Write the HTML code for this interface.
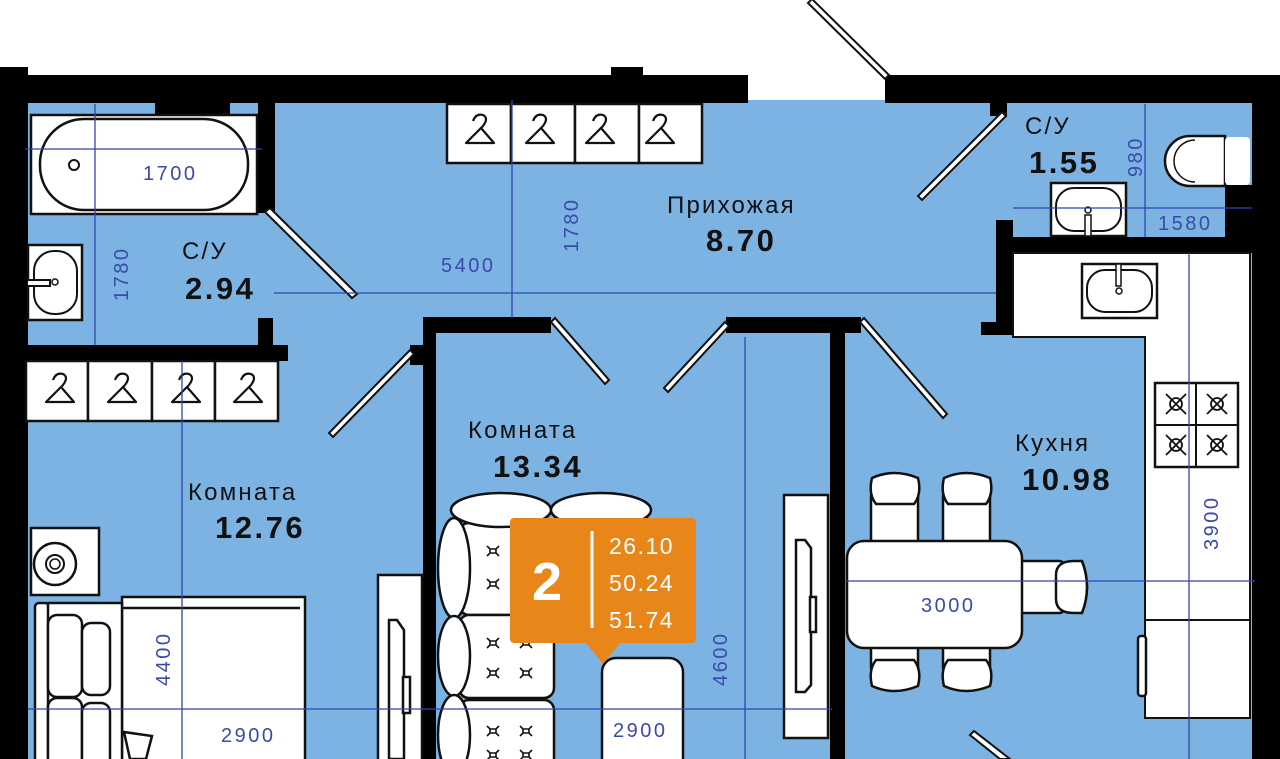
<!DOCTYPE html>
<html><head><meta charset="utf-8"><style>
html,body{margin:0;padding:0;background:#fff;}
svg{display:block}
text{font-family:"Liberation Sans","DejaVu Sans",sans-serif}
.d{fill:#3a4aa8;font-size:20px;letter-spacing:2.5px}
.l{fill:#111;font-size:24px;letter-spacing:2.2px}
.n{fill:#111;font-size:31px;font-weight:bold;letter-spacing:2.5px}
.f{fill:#fff;stroke:#111;stroke-width:2.5}
.dl{stroke:#3344b0;stroke-width:1.3}
.door{fill:#fff;stroke:#111;stroke-width:2}
</style></head><body>
<svg width="1280" height="759" viewBox="0 0 1280 759" xmlns="http://www.w3.org/2000/svg">
<rect width="1280" height="759" fill="#fff"/>
<rect x="28" y="102" width="1225" height="657" fill="#7db3e3"/>
<rect x="748" y="0" width="137" height="100" fill="#fff"/>
<rect x="748" y="100" width="137" height="3" fill="#7db3e3"/>
<g fill="#000">
<rect x="0" y="67" width="28" height="692"/>
<rect x="0" y="75" width="748" height="28"/>
<rect x="611" y="67" width="32" height="10"/>
<rect x="155" y="100" width="75" height="14"/>
<rect x="885" y="75" width="395" height="28"/>
<rect x="1252" y="75" width="28" height="684"/>
<rect x="1225" y="185" width="30" height="60"/>
<rect x="258" y="90" width="17" height="123"/>
<rect x="258" y="318" width="15" height="30"/>
<rect x="28" y="345" width="260" height="16"/>
<rect x="423" y="317" width="128" height="16"/>
<rect x="423" y="317" width="13" height="442"/>
<rect x="410" y="345" width="14" height="20"/>
<rect x="726" y="317" width="135" height="16"/>
<rect x="830" y="317" width="15" height="442"/>
<rect x="990" y="102" width="17" height="14"/>
<rect x="996" y="220" width="17" height="115"/>
<rect x="996" y="237" width="257" height="16"/>
<rect x="981" y="322" width="32" height="13"/>
</g>
<path d="M1013 253 H1250 V718 H1145 V337 H1013 Z" fill="#fff" stroke="#111" stroke-width="2"/>
<rect x="1145" y="620" width="105" height="98" fill="#fff" stroke="#111" stroke-width="2"/>
<rect x="1138" y="636" width="8" height="60" rx="3" class="f" stroke-width="2"/>
<g class="door">
<polygon points="265,212 270,208 357,294 352,298"/>
<polygon points="410,350 414,354 333,437 329,433"/>
<polygon points="551,322 555,318 609,380 605,384"/>
<polygon points="725,322 729,326 668,392 664,388"/>
<polygon points="860,322 864,318 947,414 943,418"/>
<polygon points="1002,112 1006,116 922,200 918,196"/>
<polygon points="808,3 812,-1 889,75 885,79"/>
<polygon points="970,735 974,731 1010,759 1000,759"/>
</g>
<g class="f" stroke-width="2">
<rect x="447" y="104" width="64" height="59"/><rect x="511" y="104" width="64" height="59"/><rect x="575" y="104" width="64" height="59"/><rect x="639" y="104" width="63" height="59"/>
<rect x="26" y="361" width="62" height="60"/><rect x="88" y="361" width="64" height="60"/><rect x="152" y="361" width="63" height="60"/><rect x="215" y="361" width="63" height="60"/>
</g>
<g fill="none" stroke="#111" stroke-width="2.2" stroke-linejoin="round">
<path id="h" d="M473 121 q3 -8 10 -6 q6 3 0 11 L466 143 H494 L481 128"/>
<use href="#h" x="60"/><use href="#h" x="120"/><use href="#h" x="180"/>
<use href="#h" x="-420" y="259"/><use href="#h" x="-358" y="259"/><use href="#h" x="-294" y="259"/><use href="#h" x="-232" y="259"/>
</g>
<rect x="31" y="115" width="226" height="99" class="f" stroke-width="2"/>
<rect x="40" y="119" width="208" height="91" rx="44" fill="none" stroke="#111" stroke-width="2.5"/>
<circle cx="74" cy="165" r="5" fill="none" stroke="#111" stroke-width="2"/>
<rect x="28" y="245" width="54" height="75" class="f" stroke-width="2"/>
<rect x="34" y="251" width="43" height="63" rx="20" fill="none" stroke="#111" stroke-width="2"/>
<path d="M28 280 H50 V286 H28" fill="#fff" stroke="#111" stroke-width="2"/><circle cx="55" cy="282" r="3" fill="none" stroke="#111" stroke-width="1.5"/>
<rect x="1051" y="183" width="75" height="53" class="f" stroke-width="2"/>
<rect x="1056" y="188" width="65" height="43" rx="18" fill="none" stroke="#111" stroke-width="2"/>
<circle cx="1088" cy="210" r="3" fill="none" stroke="#111" stroke-width="1.5"/><rect x="1085" y="215" width="6" height="21" fill="#fff" stroke="#111" stroke-width="1.5"/>
<path d="M1225 136 H1190 a25 25 0 0 0 0 50 H1225 Z" class="f"/>
<path d="M1195 140 a21 21 0 0 0 0 42" fill="none" stroke="#111" stroke-width="1.5"/>
<rect x="1225" y="137" width="25" height="48" rx="4" fill="#fff"/>
<rect x="1082" y="264" width="75" height="54" class="f" stroke-width="2"/>
<rect x="1087" y="270" width="65" height="42" rx="18" fill="none" stroke="#111" stroke-width="2"/>
<rect x="1116" y="264" width="5" height="22" fill="#fff" stroke="#111" stroke-width="1.5"/><circle cx="1119" cy="291" r="3" fill="none" stroke="#111" stroke-width="1.5"/>
<rect x="1155" y="383" width="83" height="84" class="f" stroke-width="2"/>
<path d="M1196 383 V467 M1155 425 H1238" stroke="#111" stroke-width="2"/>
<g fill="none" stroke="#111" stroke-width="1.8">
<g id="b"><circle cx="1176" cy="404" r="6"/><path d="M1166 394 L1186 414 M1186 394 L1166 414"/></g>
<use href="#b" x="41"/><use href="#b" y="41"/><use href="#b" x="41" y="41"/>
</g>
<g class="f" stroke-width="2.5">
<rect x="871" y="488" width="47" height="60" rx="8"/><path d="M872 478 q22 -10 46 0 q4 16 -4 26 h-38 q-8 -10 -4 -26 Z"/>
<rect x="943" y="488" width="47" height="60" rx="8"/><path d="M944 478 q22 -10 46 0 q4 16 -4 26 h-38 q-8 -10 -4 -26 Z"/>
<rect x="871" y="635" width="47" height="40" rx="8"/><path d="M872 686 q22 10 46 0 q4 -16 -4 -26 h-38 q-8 10 -4 26 Z"/>
<rect x="943" y="635" width="47" height="40" rx="8"/><path d="M944 686 q22 10 46 0 q4 -16 -4 -26 h-38 q-8 10 -4 26 Z"/>
<rect x="1015" y="561" width="50" height="52" rx="6"/><path d="M1082 561 q10 26 0 52 h-8 q-18 0 -18 -14 v-24 q0 -14 18 -14 Z"/><path d="M1082 561 q10 26 0 52" />
<rect x="847" y="541" width="175" height="107" rx="17"/>
</g>
<rect x="31" y="528" width="68" height="67" class="f" stroke-width="2"/>
<circle cx="55" cy="564" r="21" fill="none" stroke="#111" stroke-width="2.5"/><circle cx="55" cy="564" r="9" fill="none" stroke="#111" stroke-width="2"/><circle cx="55" cy="564" r="5" fill="none" stroke="#111" stroke-width="1.5"/>
<g class="f" stroke-width="2.5">
<rect x="122" y="597" width="183" height="170"/>
<path d="M122 608 H300"/>
<rect x="35" y="603" width="14" height="170" rx="4"/>
<rect x="48" y="603" width="74" height="160"/>
<rect x="48" y="615" width="34" height="82" rx="9"/><rect x="82" y="623" width="28" height="72" rx="9"/>
<rect x="48" y="698" width="34" height="80" rx="9"/><rect x="82" y="703" width="28" height="70" rx="9"/>
<path d="M124 732 L152 736 L146 759 H130 Z"/>
<rect x="378" y="575" width="44" height="190"/>
<path d="M389 620 H397 L404 630 V759 H389 Z"/>
<rect x="403" y="677" width="7" height="36"/>
</g>
<g class="f" stroke-width="2.5">
<rect x="784" y="495" width="44" height="243"/>
<path d="M796 540 H805 L811 548 V685 L805 692 H796 Z"/>
<rect x="810" y="597" width="6" height="35"/>
<rect x="459" y="523" width="95" height="92" rx="10"/>
<rect x="459" y="615" width="95" height="83" rx="10"/>
<rect x="459" y="700" width="95" height="80" rx="10"/>
<ellipse cx="501" cy="510" rx="50" ry="17"/>
<ellipse cx="601" cy="510" rx="50" ry="17"/>
<ellipse cx="454" cy="568" rx="16" ry="50"/>
<ellipse cx="454" cy="656" rx="16" ry="40"/>
<ellipse cx="454" cy="735" rx="16" ry="40"/>
<rect x="602" y="658" width="81" height="120" rx="14"/>
</g>
<g fill="none" stroke="#111" stroke-width="1.6">
<g id="s"><path d="M487 546 l3 3 h6 l3 -3 M487 556 l3 -3 h6 l3 3 M490 549 v4 M496 549 v4"/></g>
<use href="#s" y="33"/><use href="#s" y="92"/><use href="#s" x="33" y="92"/><use href="#s" y="122"/><use href="#s" x="33" y="122"/><use href="#s" y="180"/><use href="#s" x="33" y="180"/><use href="#s" y="204"/><use href="#s" x="33" y="204"/>
</g>
<g class="dl">
<line x1="25" y1="149" x2="262" y2="149"/>
<line x1="95" y1="104" x2="95" y2="345"/>
<line x1="274" y1="293" x2="996" y2="293"/>
<line x1="512" y1="100" x2="512" y2="318"/>
<line x1="1145" y1="104" x2="1145" y2="237"/>
<line x1="1013" y1="208" x2="1252" y2="208"/>
<line x1="1189" y1="253" x2="1189" y2="759"/>
<line x1="845" y1="581" x2="1255" y2="581"/>
<line x1="182" y1="361" x2="182" y2="759"/>
<line x1="28" y1="709" x2="832" y2="709"/>
<line x1="745" y1="337" x2="745" y2="759"/>
</g>
<g class="d">
<text x="143" y="180">1700</text>
<text x="441" y="272">5400</text>
<text x="1158" y="230">1580</text>
<text x="921" y="612">3000</text>
<text x="221" y="742">2900</text>
<text x="613" y="737">2900</text>
<text transform="translate(128,301) rotate(-90)">1780</text>
<text transform="translate(578,252) rotate(-90)">1780</text>
<text transform="translate(1142,177) rotate(-90)">980</text>
<text transform="translate(1218,550) rotate(-90)">3900</text>
<text transform="translate(170,686) rotate(-90)">4400</text>
<text transform="translate(727,686) rotate(-90)">4600</text>
</g>
<g>
<text class="l" x="182" y="259">С/У</text><text class="n" x="185" y="299">2.94</text>
<text class="l" x="667" y="213">Прихожая</text><text class="n" x="706" y="251">8.70</text>
<text class="l" x="1025" y="134">С/У</text><text class="n" x="1029" y="173">1.55</text>
<text class="l" x="468" y="438">Комната</text><text class="n" x="493" y="477">13.34</text>
<text class="l" x="188" y="500">Комната</text><text class="n" x="215" y="538">12.76</text>
<text class="l" x="1015" y="451">Кухня</text><text class="n" x="1022" y="490">10.98</text>
</g>
<path d="M514 518 H692 a4 4 0 0 1 4 4 V639 a4 4 0 0 1 -4 4 H620 L603 664 L586 643 H514 a4 4 0 0 1 -4 -4 V522 a4 4 0 0 1 4 -4 Z" fill="#e8861a"/>
<line x1="592" y1="531" x2="592" y2="628" stroke="#fff" stroke-width="3"/>
<text x="532" y="600" fill="#fff" font-size="54" font-weight="bold">2</text>
<g fill="#fff" font-size="23" letter-spacing="1.5"><text x="609" y="554">26.10</text><text x="609" y="591">50.24</text><text x="609" y="628">51.74</text></g>
</svg>
</body></html>
